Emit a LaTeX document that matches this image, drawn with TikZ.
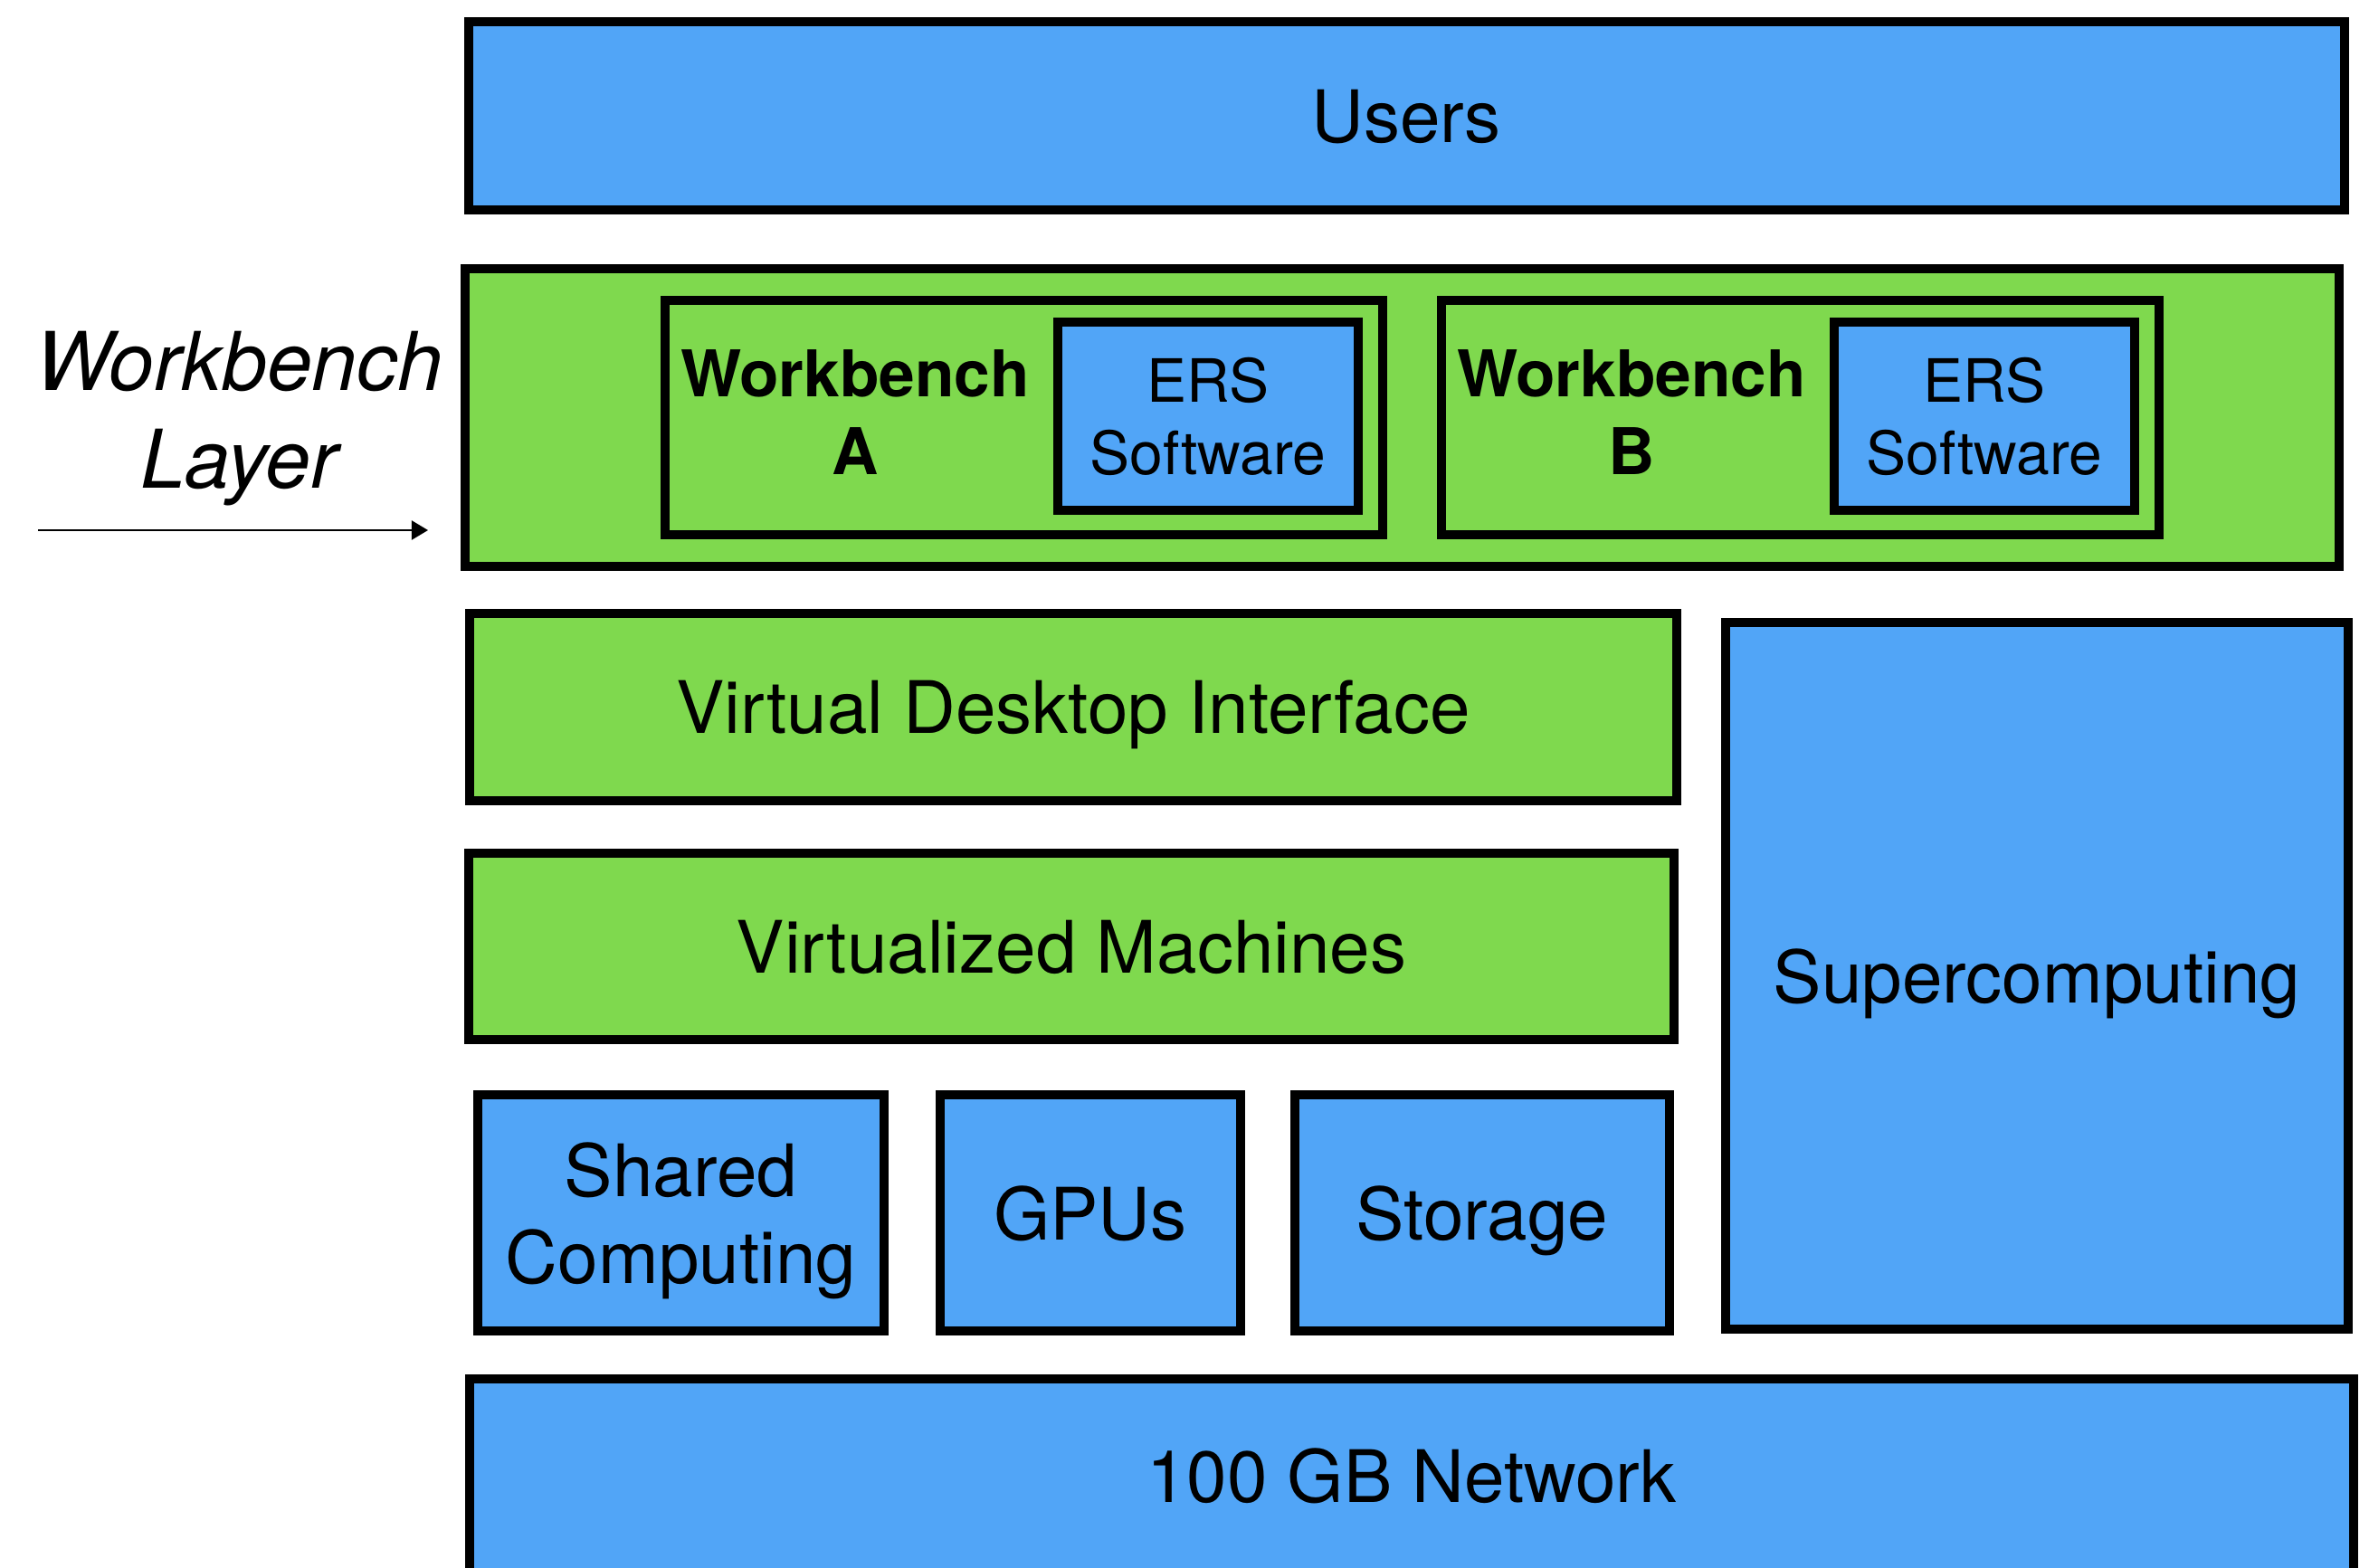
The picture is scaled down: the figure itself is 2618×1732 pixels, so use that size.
\documentclass[tikz,border=0pt]{standalone}
\usepackage{fontspec}
\setmainfont{TeX Gyre Heros}
\usetikzlibrary{arrows.meta,shadows}

\definecolor{boxblue}{RGB}{81,165,247}
\definecolor{boxgreen}{RGB}{127,217,78}

\begin{document}
\begin{tikzpicture}[x=0.25pt, y=-0.25pt, >=Triangle,
    layerbox/.style={draw=black, line width=2.5pt, inner sep=0pt, align=center, text depth=0pt,
        drop shadow={shadow xshift=0.5pt, shadow yshift=-0.5pt, opacity=0.35},
        font=\fontsize{20}{24}\selectfont},
    bluebox/.style={layerbox, fill=boxblue},
    greenbox/.style={layerbox, fill=boxgreen},
    wblabel/.style={align=center, font=\fontsize{17.8}{21.5}\selectfont\bfseries},
    erslabel/.style={font=\fontsize{16.5}{20}\selectfont}]
    \useasboundingbox (0,0) rectangle (2618,1732);
    \clip (0,0) rectangle (2618,1732);

    % Top layer
    \node[bluebox, minimum width=518.25pt, minimum height=52pt] (users) at (1554,128) {Users};

    % Workbench layer
    \node[greenbox, minimum width=517.75pt, minimum height=82.25pt] (layer) at (1549.5,461.5) {};
    \node[greenbox, minimum width=198.25pt, minimum height=64.75pt] (wbA) at (1131.5,461.5) {};
    \node[bluebox, erslabel, minimum width=83pt, minimum height=52pt] (ersA) at (1335,460) {ERS\\Software};
    \node[wblabel] (wbAtext) at (945,456) {Workbench\\A};
    \node[greenbox, minimum width=198.25pt, minimum height=64.75pt] (wbB) at (1989.5,461.5) {};
    \node[bluebox, erslabel, minimum width=83pt, minimum height=52pt] (ersB) at (2193,460) {ERS\\Software};
    \node[wblabel] (wbBtext) at (1803,456) {Workbench\\B};

    % Label and arrow
    \node[align=center, font=\fontsize{22.4}{27}\selectfont\itshape] (layerlabel) at (264,463) {Workbench\\Layer};
    \coordinate (arrowtail) at (42,586);
    \draw[->, line width=0.7pt, shorten >=9pt] (arrowtail) -- (arrowtail -| layer.west);

    % Middle layers
    \node[greenbox, minimum width=333.5pt, minimum height=51.75pt] (vdi) at (1186,781.5) {Virtual Desktop Interface};
    \node[greenbox, minimum width=333pt, minimum height=51.5pt] (vm) at (1184,1046) {Virtualized Machines};
    \node[bluebox, minimum width=172pt, minimum height=195.25pt] (super) at (2251,1078.5) {Supercomputing};

    % Hardware
    \node[bluebox, minimum width=112.25pt, minimum height=65.25pt] (shared) at (752.5,1340.5) {Shared\\Computing};
    \node[bluebox, minimum width=83pt, minimum height=65.25pt] (gpus) at (1205,1340.5) {GPUs};
    \node[bluebox, minimum width=103.5pt, minimum height=65.25pt] (storage) at (1638,1340.5) {Storage};

    % Network
    \node[bluebox, minimum width=520.5pt, minimum height=53.5pt] (network) at (1560,1631) {100 GB Network};
\end{tikzpicture}
\end{document}
